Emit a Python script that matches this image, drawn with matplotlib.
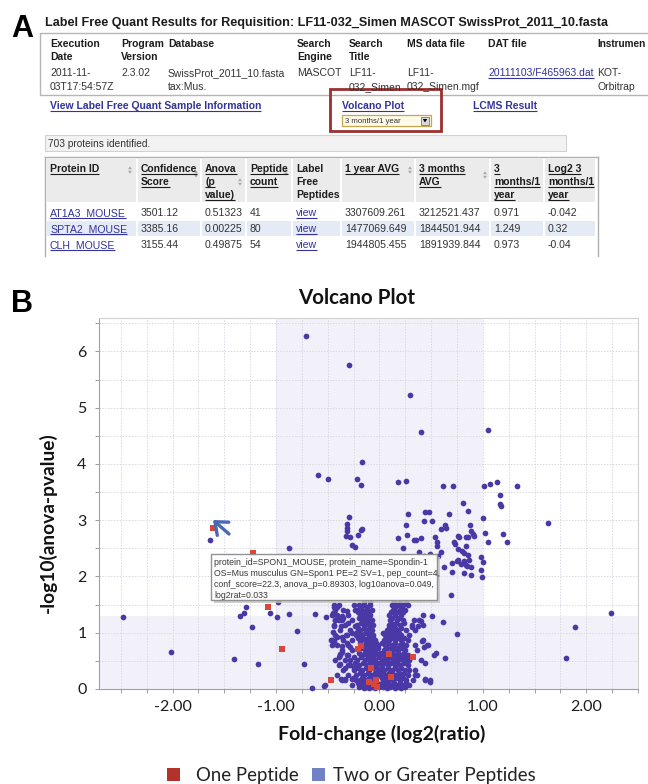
import matplotlib
matplotlib.use('Agg')
import matplotlib.pyplot as plt
import numpy as np
from matplotlib.patches import Rectangle, Polygon

# ---------------- DATA ----------------
# Panel A: screenshot tables
title_a = "Label Free Quant Results for Requisition: LF11-032_Simen MASCOT SwissProt_2011_10.fasta"
run_headers = [["Execution", "Date"], ["Program", "Version"], ["Database"], ["Search", "Engine"],
               ["Search", "Title"], ["MS data file"], ["DAT file"], ["Instrumen"]]
run_values = [["2011-11-", "03T17:54:57Z"], ["2.3.02"], ["SwissProt_2011_10.fasta", "tax:Mus."],
              ["MASCOT"], ["LF11-", "032_Simen"], ["LF11-", "032_Simen.mgf"],
              ["20111103/F465963.dat"], ["KOT-", "Orbitrap"]]
links_row = ["View Label Free Quant Sample Information", "Volcano Plot", "LCMS Result"]
dropdown_value = "3 months/1 year"
proteins_found = "703 proteins identified."
prot_headers = [["Protein ID"], ["Confidence", "Score"], ["Anova", "(p", "value)"], ["Peptide", "count"],
                ["Label", "Free", "Peptides"], ["1 year AVG"], ["3 months", "AVG"],
                ["3", "months/1", "year"], ["Log2 3", "months/1", "year"]]
protein_ids = ["AT1A3_MOUSE", "SPTA2_MOUSE", "CLH_MOUSE"]
conf_scores = ["3501.12", "3385.16", "3155.44"]
anova_p = ["0.51323", "0.00225", "0.49875"]
pep_counts = ["41", "80", "54"]
avg_1year = ["3307609.261", "1477069.649", "1944805.455"]
avg_3months = ["3212521.437", "1844501.944", "1891939.844"]
ratio_3m_1y = ["0.971", "1.249", "0.973"]
log2_ratio = ["-0.042", "0.32", "-0.04"]

# Panel B: volcano plot  (log2 ratio, -log10 p)
two_outer = [
    (-0.71, 6.28), (-0.29, 5.75), (0.30, 5.23), (0.40, 4.57), (1.05, 4.61), (-0.17, 4.04),
    (-0.59, 3.81), (-0.50, 3.73), (-0.22, 3.73), (-0.18, 3.63), (0.18, 3.67), (0.26, 3.69),
    (0.61, 3.60), (0.71, 3.61), (1.01, 3.61), (1.07, 3.65), (1.14, 3.67), (1.33, 3.60),
    (1.17, 3.45), (1.17, 3.29), (1.18, 3.26), (0.81, 3.31), (0.86, 3.17), (0.67, 3.11),
    (0.44, 3.15), (0.48, 3.15), (0.28, 3.11), (0.43, 2.99), (0.51, 2.99), (0.26, 2.92),
    (0.63, 2.92), (0.64, 2.86), (0.60, 2.85), (0.88, 2.92), (1.00, 3.04), (1.63, 2.95),
    (-0.29, 3.06), (-0.31, 2.93), (-0.31, 2.86), (-0.17, 2.85), (-0.32, 2.72), (-0.28, 2.71),
    (-0.27, 2.56), (-0.24, 2.53), (-0.31, 2.80), (-0.21, 2.74), (-0.18, 2.82),
    (0.89, 2.80), (0.90, 2.76), (0.77, 2.71), (0.86, 2.70), (0.27, 2.73), (0.35, 2.65),
    (0.40, 2.68), (0.18, 2.68), (0.23, 2.51), (0.54, 2.70), (0.56, 2.55), (0.60, 2.43),
    (0.57, 2.36), (0.38, 2.43), (0.43, 2.36), (0.49, 2.40), (0.54, 2.30), (0.62, 2.17),
    (0.70, 2.24), (0.76, 2.30), (0.79, 2.22), (0.85, 2.19), (0.89, 2.17), (0.87, 2.30),
    (0.76, 2.49), (0.80, 2.46), (0.82, 2.41), (0.86, 2.38), (0.72, 2.62),
    (1.02, 2.78), (1.05, 2.61), (1.19, 2.75), (1.23, 2.61), (0.33, 2.65), (0.56, 2.61),
    (0.73, 2.58), (0.84, 2.55), (0.76, 2.72), (0.84, 2.71), (0.91, 2.72), (0.98, 2.34),
    (1.00, 2.26), (0.75, 2.27), (0.82, 2.27), (0.84, 2.20), (0.70, 2.08), (0.82, 2.06),
    (0.89, 2.02), (0.98, 2.12), (0.99, 1.99), (0.69, 1.67), (0.51, 1.30), (0.61, 1.19),
    (0.75, 0.98), (0.55, 0.64), (0.63, 0.55), (0.46, 0.79), (0.43, 0.75), (0.44, 0.46),
    (0.49, 0.13), (0.44, 0.18), (0.34, 0.24), (0.29, 0.33), (0.31, 1.11), (0.37, 1.12),
    (0.40, 1.20), (0.26, 0.57), (0.28, 0.49), (0.41, 0.85),
    (2.24, 1.35), (1.89, 1.10), (1.80, 0.55),
    (-1.64, 2.65), (-0.87, 2.51), (-2.48, 1.28), (-1.29, 1.46), (-1.35, 1.30), (-1.31, 1.35),
    (-1.06, 1.35), (-0.99, 1.28), (-0.98, 1.55), (-0.87, 1.33), (-1.23, 1.10), (-0.80, 1.03),
    (-0.62, 1.33), (-0.52, 1.28), (-2.02, 0.66), (-1.41, 0.53), (-1.17, 0.45), (-0.73, 0.44),
    (-0.53, 0.07), (-0.65, 0.02), (-0.37, 0.17), (-0.33, 0.17), (-0.27, 0.17), (-0.38, 0.44),
    (-0.39, 0.57), (-0.38, 0.62), (-0.54, 0.06), (-0.47, 0.87), (-0.44, 0.81),
    (-0.44, 1.45), (-0.41, 1.45), (-0.45, 1.35), (-0.41, 1.30), (-0.36, 1.29), (-0.31, 1.39),
    (-0.24, 1.41), (-0.43, 1.22), (-0.39, 1.23), (-0.35, 1.26), (-0.44, 1.12), (-0.37, 1.12),
    (-0.30, 1.17), (-0.24, 1.12), (-0.45, 1.01), (-0.41, 0.93), (-0.36, 0.93), (-0.32, 0.96),
    (-0.27, 0.99), (-0.22, 1.02), (-0.46, 0.78), (-0.44, 0.85), (-0.36, 0.77), (-0.31, 0.81),
    (-0.28, 0.75), (-0.36, 0.66), (-0.31, 0.60), (-0.25, 0.57), (-0.28, 0.52), (-0.23, 0.43),
    (-0.30, 0.43), (-0.33, 0.37), (-0.25, 0.37),
]
# dense core, listed row by row: (-log10 p, [log2 ratios])
two_core_rows = [
    (1.55, [-0.15, -0.09, 0.14, 0.20, 0.26]),
    (1.49, [-0.44, -0.39, -0.25, -0.20, -0.15, -0.09, 0.12, 0.18, 0.23, 0.28]),
    (1.45, [-0.18, -0.12, 0.15, 0.21]),
    (1.41, [-0.43, -0.35, -0.22, -0.17, -0.12, -0.07, 0.13, 0.20, 0.25]),
    (1.36, [-0.21, -0.16, -0.11, 0.11, 0.17, 0.23]),
    (1.32, [-0.46, -0.41, -0.30, -0.19, -0.14, -0.09, 0.09, 0.15, 0.21, 0.42]),
    (1.27, [-0.20, -0.15, -0.10, 0.12, 0.19]),
    (1.23, [-0.43, -0.36, -0.27, -0.17, -0.12, -0.07, 0.10, 0.17, 0.23, 0.33, 0.38]),
    (1.18, [-0.18, -0.13, -0.08, 0.11, 0.16, 0.24]),
    (1.14, [-0.44, -0.33, -0.22, -0.15, -0.10, -0.06, 0.09, 0.13, 0.20, 0.31, 0.42]),
    (1.09, [-0.21, -0.15, -0.09, 0.09, 0.15, 0.21]),
    (1.05, [-0.38, -0.28, -0.19, -0.12, -0.07, 0.07, 0.12, 0.17, 0.26, 0.34]),
    (1.00, [-0.20, -0.14, -0.08, 0.03, 0.08, 0.13, 0.19]),
    (0.96, [-0.43, -0.31, -0.23, -0.17, -0.10, -0.06, 0.05, 0.10, 0.15, 0.21, 0.29]),
    (0.91, [-0.21, -0.16, -0.11, -0.06, 0.06, 0.11, 0.17, 0.24]),
    (0.87, [-0.46, -0.35, -0.27, -0.19, -0.14, -0.09, -0.04, 0.04, 0.09, 0.15, 0.21, 0.28, 0.42]),
    (0.82, [-0.19, -0.13, -0.08, -0.03, 0.02, 0.08, 0.15, 0.22]),
    (0.78, [-0.41, -0.30, -0.15, -0.10, -0.06, -0.01, 0.05, 0.12, 0.20, 0.26, 0.34, 0.47]),
    (0.73, [-0.18, -0.11, -0.06, -0.01, 0.07, 0.11, 0.16, 0.22]),
    (0.69, [-0.36, -0.27, -0.14, -0.09, -0.04, 0.04, 0.13, 0.18, 0.25, 0.36]),
    (0.64, [-0.20, -0.14, -0.09, -0.04, 0.01, 0.08, 0.12, 0.18, 0.24]),
    (0.60, [-0.38, -0.30, -0.17, -0.12, -0.07, -0.01, 0.04, 0.15, 0.21, 0.28, 0.53]),
    (0.56, [-0.18, -0.11, -0.06, 0.00, 0.05, 0.10, 0.16, 0.21]),
    (0.52, [-0.43, -0.33, -0.22, -0.14, -0.09, -0.04, 0.02, 0.07, 0.13, 0.18, 0.23, 0.29, 0.40]),
    (0.47, [-0.24, -0.16, -0.09, -0.05, 0.00, 0.05, 0.11, 0.17, 0.24]),
    (0.43, [-0.39, -0.28, -0.20, -0.12, -0.03, 0.02, 0.08, 0.15, 0.20, 0.28]),
    (0.38, [-0.21, -0.13, -0.06, -0.02, 0.02, 0.08, 0.15, 0.21]),
    (0.34, [-0.35, -0.25, -0.17, -0.10, -0.01, 0.04, 0.12, 0.18, 0.25, 0.34]),
    (0.29, [-0.19, -0.11, -0.04, 0.02, 0.09, 0.12, 0.19, 0.24]),
    (0.25, [-0.41, -0.30, -0.23, -0.15, -0.07, 0.00, 0.05, 0.15, 0.21, 0.28, 0.36]),
    (0.20, [-0.26, -0.17, -0.10, -0.03, 0.02, 0.07, 0.11, 0.17, 0.23]),
    (0.16, [-0.36, -0.33, -0.23, -0.19, -0.14, -0.06, 0.04, 0.09, 0.13, 0.20, 0.26, 0.32, 0.44, 0.49]),
    (0.11, [-0.21, -0.15, -0.09, -0.02, 0.02, 0.08, 0.14, 0.20, 0.26]),
    (0.07, [-0.27, -0.17, -0.12, -0.07, 0.05, 0.12, 0.17, 0.23, 0.29]),
    (0.04, [-0.20, -0.13, -0.07, 0.00, 0.03, 0.10, 0.18, 0.25]),
    (0.02, [-0.15, -0.10, -0.04, 0.07, 0.15, 0.21]),
]
one_peptide = [(-1.61, 2.86), (-1.22, 2.42), (-1.08, 1.46), (-0.94, 0.71), (-0.47, 0.16),
               (-0.21, 0.71), (-0.18, 0.77), (-0.08, 0.37), (0.09, 0.62), (0.32, 0.56),
               (-0.10, 0.13), (-0.03, 0.16), (-0.05, 0.08), (-0.02, 0.04), (0.11, 0.22)]
x_ticks = [-2, -1, 0, 1, 2]
x_tick_labels = ["-2.00", "-1.00", "0.00", "1.00", "2.00"]
y_ticks = [0, 1, 2, 3, 4, 5, 6]
fc_cutoff = 1.0
p_cutoff = 1.301
tooltip_lines = ["protein_id=SPON1_MOUSE, protein_name=Spondin-1",
                 "OS=Mus musculus GN=Spon1 PE=2 SV=1, pep_count=4,",
                 "conf_score=22.3, anova_p=0.89303, log10anova=0.049,",
                 "log2rat=0.033"]
legend_labels = ["One Peptide", "Two or Greater Peptides"]

# ---------------- FIGURE ----------------
W, H = 648, 784
fig = plt.figure(figsize=(W / 100, H / 100), dpi=100)
fig.patch.set_facecolor('white')
renderer = fig.canvas.get_renderer()
AF = ['Liberation Sans', 'DejaVu Sans']
BF = ['Lato', 'DejaVu Sans']
LINK = '#33339a'
INK = '#1c1c1c'


def pixel_axes(z):
    a = fig.add_axes([0, 0, 1, 1], zorder=z)
    a.set_xlim(0, W)
    a.set_ylim(H, 0)
    a.axis('off')
    a.patch.set_visible(False)
    return a


def txt(ax, x, y, s, size=7.6, bold=False, color=INK, family=AF, ha='left', va='baseline',
        underline=False, fit=None, rotation=0, **kw):
    t = ax.text(x, y, s, fontsize=size, fontweight='bold' if bold else 'normal', color=color,
                family=family, ha=ha, va=va, rotation=rotation, **kw)
    if fit is not None:
        bb = t.get_window_extent(renderer)
        w = bb.height if rotation == 90 else bb.width
        t.set_fontsize(size * fit / w)
    if underline:
        bb = t.get_window_extent(renderer)
        ax.plot([bb.x0, bb.x1], [y + 1.7, y + 1.7], color=color, lw=0.8, solid_capstyle='butt')
    return t


def lines(ax, x, y0, dy, ls, **kw):
    for i, s in enumerate(ls):
        txt(ax, x, y0 + i * dy, s, **kw)


axA = pixel_axes(0)

# ---- Panel A ----
txt(axA, 11, 37, "A", size=22, bold=True, color='black')
txt(axA, 45, 26, title_a, size=8.4, bold=True, fit=566)

axA.add_patch(Rectangle((40, 33), 640, 62, fill=False, ec='#b5b5b5', lw=1))
run_x = [50, 121, 168, 297, 349, 407, 488, 597]
for i, x in enumerate(run_x):
    lines(axA, x, 47, 13, run_headers[i], bold=True, size=7.5 if i < 7 else 7.2)
    if i == 6:
        txt(axA, x, 76, run_values[i][0], size=7.5, color=LINK, underline=True)
    else:
        lines(axA, x, 76, 14, run_values[i], size=7.5, color='#333333')

link_x = [50, 342, 473]
for x, s in zip(link_x, links_row):
    txt(axA, x, 109, s, size=7.5, bold=True, color=LINK, underline=True)

# dropdown
axA.add_patch(Rectangle((342, 115), 89, 11, fc='#fffbe8', ec='#c9a64a', lw=0.9))
txt(axA, 345, 123.3, dropdown_value, size=5.6, color='#333333')
axA.add_patch(Rectangle((421, 116.5), 8, 8, fc='#d8d8d8', ec='#777777', lw=0.6))
axA.add_patch(Polygon([[422.8, 119], [427.2, 119], [425, 122.5]], closed=True, fc='black', ec='none'))
# highlight box
axA.add_patch(Rectangle((330, 89), 111, 42, fill=False, ec='#9a3030', lw=2))

# proteins identified bar
axA.add_patch(Rectangle((45, 135), 521, 16, fc='#f2f2f2', ec='#d2d2d2', lw=0.8))
txt(axA, 48, 147, proteins_found, size=7.3, color='#333333')

# protein table
col_x = [47, 138, 202, 247, 293, 342, 416, 491, 545, 597]
axA.plot([45, 598], [157, 157], color='#b0b0b0', lw=1)
axA.plot([45, 45], [157, 256], color='#b0b0b0', lw=1)
axA.plot([598, 598], [157, 256], color='#b0b0b0', lw=1)
for i in range(len(col_x) - 1):
    x0, x1 = col_x[i], col_x[i + 1] - 2
    axA.add_patch(Rectangle((x0, 159), x1 - x0, 43, fc='#ebebeb', ec='none'))
    axA.add_patch(Rectangle((x0, 221), x1 - x0, 15, fc='#e5ebf6', ec='none'))
for i in range(len(col_x) - 1):
    lines(axA, col_x[i] + 3, 172, 13, prot_headers[i], bold=True, size=7.5, underline=(i != 4))
# sort icons
for (sx, sy) in [(130, 170), (196, 174), (240, 182), (286, 172), (410, 170), (485, 175)]:
    axA.add_patch(Polygon([[sx - 2, sy - 0.8], [sx + 2, sy - 0.8], [sx, sy - 3.6]], closed=True, fc='#a8a8a8', ec='none'))
    axA.add_patch(Polygon([[sx - 2, sy + 0.8], [sx + 2, sy + 0.8], [sx, sy + 3.6]], closed=True, fc='#a8a8a8', ec='none'))
cols = [protein_ids, conf_scores, anova_p, pep_counts, ["view"] * 3, avg_1year, avg_3months,
        ratio_3m_1y, log2_ratio]
row_base = [216, 232, 248]
for i, col in enumerate(cols):
    for r, s in enumerate(col):
        is_link = i in (0, 4)
        txt(axA, col_x[i] + 3, row_base[r], s, size=7.6, color=LINK if is_link else '#333333',
            underline=is_link)

txt(axA, 11, 312, "B", size=22, bold=True, color='black')

# ---- Panel B ----
L, R, T, Bt = 99, 638, 318, 689
px_x, px_y = 104.0, 56.27
x0_px, y0_px = 381.0, 689.0
axB = fig.add_axes([L / W, 1 - Bt / H, (R - L) / W, (Bt - T) / H], zorder=1)
axB.set_xlim((L - x0_px) / px_x, (R - x0_px) / px_x)
axB.set_ylim(0, (y0_px - T) / px_y)
band = '#e6e4f6'
axB.axvspan(-fc_cutoff, fc_cutoff, color=band, alpha=0.5, lw=0, zorder=0)
axB.axhspan(0, p_cutoff, color=band, alpha=0.5, lw=0, zorder=0)
axB.set_xticks(x_ticks)
axB.set_xticklabels(x_tick_labels)
axB.set_xticks(np.arange(-2.5, 2.51, 0.25), minor=True)
axB.set_yticks(y_ticks)
axB.set_yticks(np.arange(0, 6.6, 0.5), minor=True)
axB.grid(True, which='both', ls=(0, (1.5, 1.5)), color='#d9d9e2', lw=0.7, zorder=0.5)
axB.set_axisbelow(True)
for lab in axB.get_xticklabels() + axB.get_yticklabels():
    lab.set_family(BF)
    lab.set_fontsize(11.5)
    lab.set_color(INK)
axB.tick_params(which='both', direction='out', length=3, width=0.7, color='#a0a0a0')
axB.tick_params(axis='x', which='major', pad=5)
axB.tick_params(axis='y', which='major', pad=6)
for s in ['left', 'bottom']:
    axB.spines[s].set_color('#a0a0a0')
for s in ['top', 'right']:
    axB.spines[s].set_color('#d2d2d2')

two = list(two_outer)
for yv, xs in two_core_rows:
    two += [(xv, yv) for xv in xs]
two = np.array(two)
one = np.array(one_peptide)
axB.scatter(two[:, 0], two[:, 1], s=17, c='#4a38a6', linewidths=0, zorder=3, clip_on=False)
axB.scatter(one[:, 0], one[:, 1], s=18, marker='s', c='#d9463b', linewidths=0, zorder=4, clip_on=False)

axT = pixel_axes(5)
txt(axT, 357, 298, "Volcano Plot", size=14, bold=True, family=BF, ha='center', va='center',
    fit=118, color='#111111')
txt(axT, 48, 523, "-log10(anova-pvalue)", size=12, bold=True, family=BF, ha='center', va='center',
    rotation=90, fit=180, color='#111111')
txt(axT, 382, 734, "Fold-change (log2(ratio)", size=12, bold=True, family=BF, ha='center', va='center',
    fit=205, color='#111111')

# tooltip
axT.add_patch(Rectangle((213.5, 556.5), 226, 46, fc='#c4c4c4', ec='none', alpha=0.8))
axT.add_patch(Rectangle((211, 554), 226, 46, fc='white', ec='#8c8c8c', lw=1, alpha=0.95))
for i, s in enumerate(tooltip_lines):
    txt(axT, 214.5, 565 + i * 10.9, s, size=6.8, color='#3a3a3a', fit=215 if i == 0 else None)
sz = axT.texts[-4].get_fontsize()
for t in axT.texts[-3:]:
    t.set_fontsize(sz)

# cursor arrow
axT.annotate('', xy=(213, 520), xytext=(229, 534),
             arrowprops=dict(arrowstyle='->,head_length=0.55,head_width=0.45', lw=2.4,
                             color='#4a69b3', mutation_scale=14, shrinkA=0, shrinkB=0))

# legend
axT.add_patch(Rectangle((167, 768), 13, 13, fc='#b3322a', ec='none'))
txt(axT, 196, 775, legend_labels[0], size=11.5, family=BF, va='center', fit=103, color='#222222')
axT.add_patch(Rectangle((312, 768), 13, 13, fc='#7081c6', ec='none'))
txt(axT, 333, 775, legend_labels[1], size=11.5, family=BF, va='center', fit=204, color='#222222')

fig.savefig('out.png', dpi=100, facecolor='white')
